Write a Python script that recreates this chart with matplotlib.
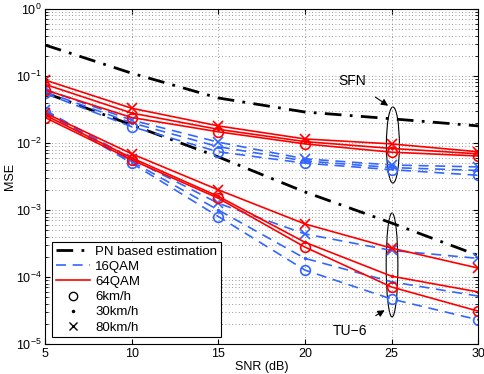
import numpy as np
import matplotlib
matplotlib.use('Agg')
import matplotlib.pyplot as plt
from matplotlib.patches import Ellipse
from matplotlib.lines import Line2D

plt.rcParams['font.family'] = ['Liberation Sans', 'DejaVu Sans']

snr = [5, 10, 15, 20, 25, 30]

# PN based estimation
pn_sfn = [0.29, 0.11, 0.047, 0.029, 0.023, 0.018]
pn_tu6 = [0.056, 0.0186, 0.0062, 0.00186, 0.00064, 0.00021]

# SFN channel
sfn_64_6 = [0.062, 0.024, 0.0147, 0.0097, 0.0073, 0.0064]
sfn_64_30 = [0.075, 0.028, 0.016, 0.0105, 0.0083, 0.0069]
sfn_64_80 = [0.087, 0.033, 0.018, 0.0115, 0.0097, 0.0074]
sfn_16_6 = [0.055, 0.0175, 0.0074, 0.0050, 0.0040, 0.0033]
sfn_16_30 = [0.058, 0.020, 0.0088, 0.0054, 0.0043, 0.0039]
sfn_16_80 = [0.063, 0.022, 0.0103, 0.0058, 0.0047, 0.0044]

# TU-6 channel
tu_64_6 = [0.024, 0.0056, 0.0015, 0.00028, 0.000071, 0.000031]
tu_64_30 = [0.026, 0.0060, 0.0016, 0.00033, 0.000103, 0.000060]
tu_64_80 = [0.028, 0.0069, 0.0020, 0.00062, 0.00027, 0.000136]
tu_16_6 = [0.029, 0.0050, 0.0008, 0.000127, 0.000047, 0.000023]
tu_16_30 = [0.030, 0.0053, 0.00100, 0.00019, 0.000085, 0.000052]
tu_16_80 = [0.031, 0.0058, 0.00126, 0.00044, 0.00025, 0.00019]

blue = '#3366ff'
red = '#ff0000'

fig = plt.figure(figsize=(4.85, 3.74), dpi=100)
ax = fig.add_axes([0.093, 0.080, 0.893, 0.896])

pn_kw = dict(color='k', linestyle=(0, (6, 3, 1, 3)), linewidth=2.0)
ax.plot(snr, pn_sfn, **pn_kw)
ax.plot(snr, pn_tu6, **pn_kw)

mk = {'6': dict(marker='o', markersize=7, markerfacecolor='none', markeredgewidth=1.2),
      '30': dict(marker='.', markersize=3),
      '80': dict(marker='x', markersize=7, markeredgewidth=1.2)}

for series, c, ls in [((sfn_16_6, sfn_16_30, sfn_16_80), blue, (0, (6, 4))),
                      ((tu_16_6, tu_16_30, tu_16_80), blue, (0, (6, 4))),
                      ((sfn_64_6, sfn_64_30, sfn_64_80), red, '-'),
                      ((tu_64_6, tu_64_30, tu_64_80), red, '-')]:
    for vals, key in zip(series, ['6', '30', '80']):
        ax.plot(snr, vals, color=c, linestyle=ls, linewidth=1.2, **mk[key])

ax.set_yscale('log')
ax.set_xlim(5, 30)
ax.set_ylim(1e-5, 1)
ax.set_xticks([5, 10, 15, 20, 25, 30])
ax.set_yticks([1e-5, 1e-4, 1e-3, 1e-2, 1e-1, 1])
ax.tick_params(which='both', direction='in', top=True, right=True, labelsize=9, pad=2.5)
ax.grid(True, which='major', linestyle=(0, (1, 3)), color='#777777', linewidth=0.6)
ax.grid(True, which='minor', axis='y', linestyle=(0, (1, 3)), color='#777777', linewidth=0.6)
ax.set_xlabel('SNR (dB)', fontsize=9, labelpad=1)
ax.set_ylabel('MSE', fontsize=9, labelpad=0)

# ellipses marking the channel groups
ax.add_patch(Ellipse((0.803, 0.594), 0.030, 0.227, transform=ax.transAxes,
                     fill=False, edgecolor='k', linewidth=0.8))
ax.add_patch(Ellipse((0.801, 0.236), 0.027, 0.31, transform=ax.transAxes,
                     fill=False, edgecolor='k', linewidth=0.8))

ax.annotate('SFN', xy=(24.8, 0.036), xytext=(22.7, 0.084), fontsize=10,
            ha='center', va='center',
            arrowprops=dict(arrowstyle='-|>', color='k', lw=0.8, shrinkA=8, shrinkB=0))
ax.annotate('TU\u22126', xy=(24.6, 3.2e-5), xytext=(22.6, 1.56e-5), fontsize=10,
            ha='center', va='center',
            arrowprops=dict(arrowstyle='-|>', color='k', lw=0.8, shrinkA=8, shrinkB=0))

handles = [Line2D([], [], **pn_kw),
           Line2D([], [], color=blue, linestyle=(0, (6, 4)), linewidth=1.2),
           Line2D([], [], color=red, linestyle='-', linewidth=1.2),
           Line2D([], [], color='k', linestyle='none', marker='o', markersize=6, markerfacecolor='none'),
           Line2D([], [], color='k', linestyle='none', marker='.', markersize=3),
           Line2D([], [], color='k', linestyle='none', marker='x', markersize=6)]
labels = ['PN based estimation', '16QAM', '64QAM', '6km/h', '30km/h', '80km/h']
leg = ax.legend(handles, labels, loc='lower left', fontsize=9.5, fancybox=False,
                edgecolor='k', framealpha=1, borderaxespad=0.5, handlelength=2.6,
                labelspacing=0.22, borderpad=0.3, handletextpad=0.4)
leg.get_frame().set_linewidth(0.8)

fig.savefig('out.png', dpi=100)
